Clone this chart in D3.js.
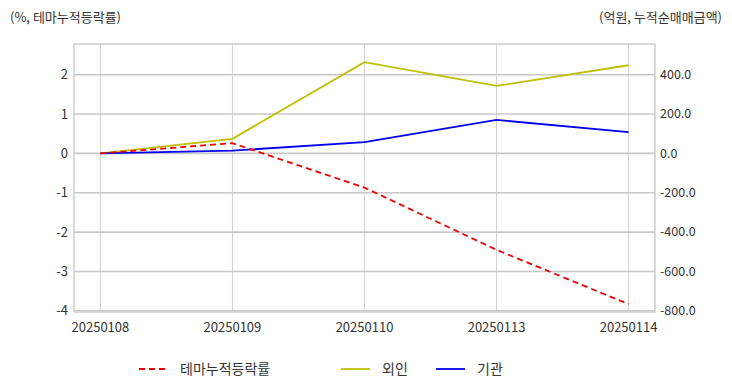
<!DOCTYPE html>
<html><head><meta charset="utf-8">
<script src="https://cdn.jsdelivr.net/npm/d3@7"></script>
<style>body{margin:0;background:#fff}svg{display:block;font-family:"Noto Sans CJK KR","Noto Sans",sans-serif}</style>
</head><body>
<svg id="c" width="732" height="392"></svg>
<script>
const dates = ["20250108","20250109","20250110","20250113","20250114"];
const themeRate = [0, 0.26, -0.87, -2.45, -3.83];
const foreign = [0, 74, 464, 343, 448];
const institution = [0, 14, 57, 170, 108];
const leftTicks = [2,1,0,-1,-2,-3,-4];
const rightTicks = [400,200,0,-200,-400,-600,-800];

const svg = d3.select("#c");
const L=74, R=655, T=44, B=312;
const x = d3.scalePoint().domain(dates).range([L,R]).padding(0.2);
const yL = d3.scaleLinear().domain([-4.03,2.78]).range([B,T]);
const yR = d3.scaleLinear().domain([-806,556]).range([B,T]);

// grid
const g = svg.append("g");
g.selectAll(".vg").data(dates).enter().append("line")
  .attr("x1",d=>x(d)).attr("x2",d=>x(d)).attr("y1",T).attr("y2",B)
  .attr("stroke","#d0d0d0").attr("stroke-width",1);
g.selectAll(".hg").data(leftTicks).enter().append("line")
  .attr("x1",L).attr("x2",R).attr("y1",d=>yL(d)).attr("y2",d=>yL(d))
  .attr("stroke","#c8c8c8").attr("stroke-width",1.6);
g.append("rect").attr("x",L).attr("y",T).attr("width",R-L).attr("height",B-T)
  .attr("fill","none").attr("stroke","#d0d0d0").attr("stroke-width",1.6);

// axes labels
svg.append("g").selectAll("text").data(leftTicks).enter().append("text")
  .attr("x",68).attr("y",d=>yL(d)).attr("dy","0.35em").attr("text-anchor","end")
  .attr("font-size",13).attr("fill","#333").text(d=>String(d));
svg.append("g").selectAll("text").data(rightTicks).enter().append("text")
  .attr("x",660).attr("y",d=>yR(d)).attr("dy","0.35em").attr("text-anchor","start")
  .attr("font-size",12.5).attr("fill","#333").text(d=>d.toFixed(1));
svg.append("g").selectAll("text").data(dates).enter().append("text")
  .attr("x",d=>x(d)).attr("y",327).attr("dy","0.35em").attr("text-anchor","middle")
  .attr("font-size",13).attr("fill","#333").text(d=>d);

svg.append("text").attr("x",10).attr("y",17).attr("dy","0.35em").attr("font-size",13).attr("fill","#333").text("(%, 테마누적등락률)");
svg.append("text").attr("x",722).attr("y",17).attr("dy","0.35em").attr("text-anchor","end").attr("font-size",13).attr("fill","#333").text("(억원, 누적순매매금액)");

// lines
const lineL = d3.line().x((d,i)=>x(dates[i])).y(d=>yL(d));
const lineR = d3.line().x((d,i)=>x(dates[i])).y(d=>yR(d));
svg.append("path").attr("d",lineR(foreign)).attr("fill","none").attr("stroke","#bfbf00").attr("stroke-width",1.8);
svg.append("path").attr("d",lineR(institution)).attr("fill","none").attr("stroke","#0000ee").attr("stroke-width",1.8);
svg.append("path").attr("d",lineL(themeRate)).attr("fill","none").attr("stroke","#ee0000").attr("stroke-width",1.8).attr("stroke-dasharray","6,4");

// legend
const legend = [
  {name:"테마누적등락률", color:"#ee0000", dash:"6,4", x:139},
  {name:"외인", color:"#bfbf00", dash:null, x:341},
  {name:"기관", color:"#0000ee", dash:null, x:436}
];
const lg = svg.append("g").selectAll("g").data(legend).enter().append("g");
lg.append("line").attr("x1",d=>d.x).attr("x2",d=>d.x+29).attr("y1",369).attr("y2",369)
  .attr("stroke",d=>d.color).attr("stroke-width",1.8).attr("stroke-dasharray",d=>d.dash);
lg.append("text").attr("x",d=>d.x+41).attr("y",369).attr("dy","0.35em").attr("font-size",14).attr("fill","#333").text(d=>d.name);
</script>
</body></html>
